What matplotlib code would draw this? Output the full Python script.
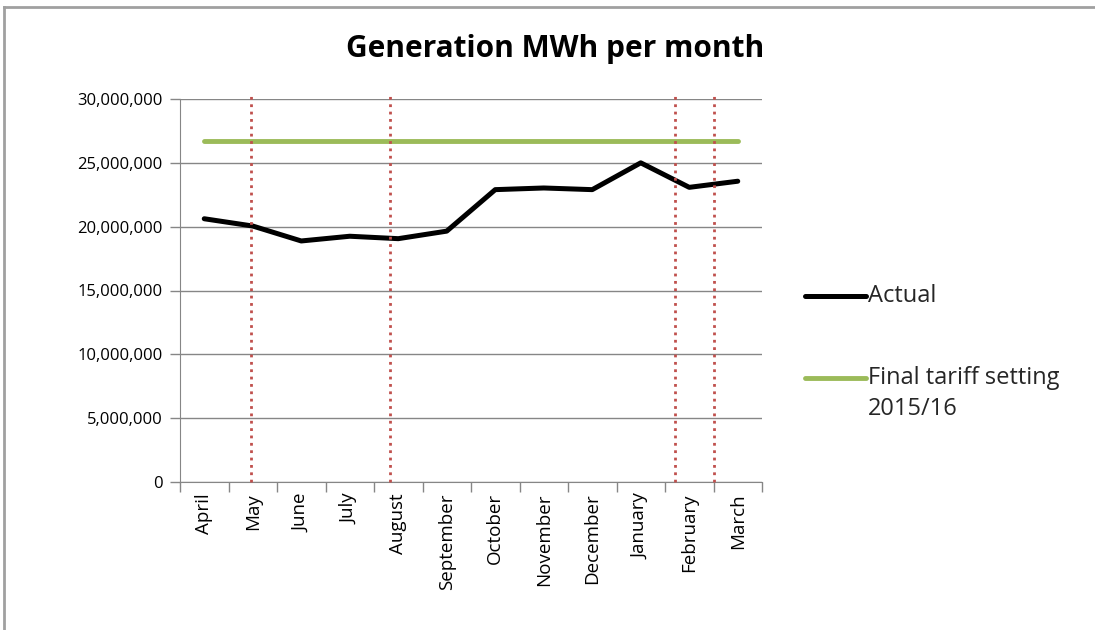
import numpy as np
import matplotlib
matplotlib.use("Agg")
import matplotlib.pyplot as plt
from matplotlib.lines import Line2D
from matplotlib.ticker import FuncFormatter

plt.rcParams['font.family'] = ['Open Sans', 'DejaVu Sans']

months = ['April', 'May', 'June', 'July', 'August', 'September', 'October',
          'November', 'December', 'January', 'February', 'March']
actual = [20620000, 20050000, 18880000, 19250000, 19060000, 19650000,
          22900000, 23030000, 22900000, 25000000, 23080000, 23560000]
tariff = [26730000] * 12
# dotted red markers, in category units
marker_pos = [0.96, 3.84, 9.70, 10.50]

W, H = 1095, 630
fig = plt.figure(figsize=(W / 100, H / 100), dpi=100)
ax = fig.add_axes([180 / W, 1 - 482 / H, (762 - 180) / W, (482 - 99) / H])

x = np.arange(len(months))
ax.plot(x, tariff, color='#9bbb59', lw=3.5, solid_capstyle='round', zorder=3)
ax.plot(x, actual, color='black', lw=3.6, solid_capstyle='round',
        solid_joinstyle='round', zorder=4)
for p in marker_pos:
    ax.plot([p, p], [0, 30400000], color='#c0504d', lw=2, ls=':',
            clip_on=False, zorder=5)

ax.set_xlim(-0.5, 11.5)
ax.set_ylim(0, 30000000)
ax.set_yticks(np.arange(0, 30000001, 5000000))
ax.yaxis.set_major_formatter(FuncFormatter(lambda v, p: f'{int(v):,}'))
ax.set_xticks(x)
ax.set_xticklabels(months, rotation=90)
ax.set_xticks(np.arange(-0.5, 12, 1), minor=True)
ax.tick_params(axis='x', which='major', length=0, labelsize=13.5, pad=8)
ax.tick_params(axis='x', which='minor', length=7, color='#868686', width=1)
ax.tick_params(axis='y', length=7, color='#868686', width=1, labelsize=12, pad=5.5)
ax.grid(axis='y', color='#868686', lw=1)
ax.set_axisbelow(True)
for s in ['top', 'right']:
    ax.spines[s].set_visible(False)
for s in ['left', 'bottom']:
    ax.spines[s].set_color('#868686')

fig.text(555 / W, 1 - 57 / H, 'Generation MWh per month', ha='center',
         va='baseline', fontsize=21.5, fontweight='bold')

# legend
lfs = 17
fig.add_artist(Line2D([805 / W, 866 / W], [1 - 296 / H] * 2, color='black',
                      lw=3.6, solid_capstyle='round'))
fig.text(868 / W, 1 - 296 / H, 'Actual', va='center', fontsize=lfs, color='#262626')
fig.add_artist(Line2D([805 / W, 866 / W], [1 - 378 / H] * 2, color='#9bbb59',
                      lw=3.5, solid_capstyle='round'))
fig.text(868 / W, 1 - 378 / H, 'Final tariff setting', va='center', fontsize=lfs,
         color='#262626')
fig.text(868 / W, 1 - 409 / H, '2015/16', va='center', fontsize=lfs, color='#262626')

# chart frame
fig.add_artist(Line2D([4 / W, 4 / W], [0, 1 - 7 / H], color='#a0a0a0', lw=2))
fig.add_artist(Line2D([4 / W, 1], [1 - 7 / H] * 2, color='#a0a0a0', lw=2))

fig.savefig('out.png', dpi=100)
